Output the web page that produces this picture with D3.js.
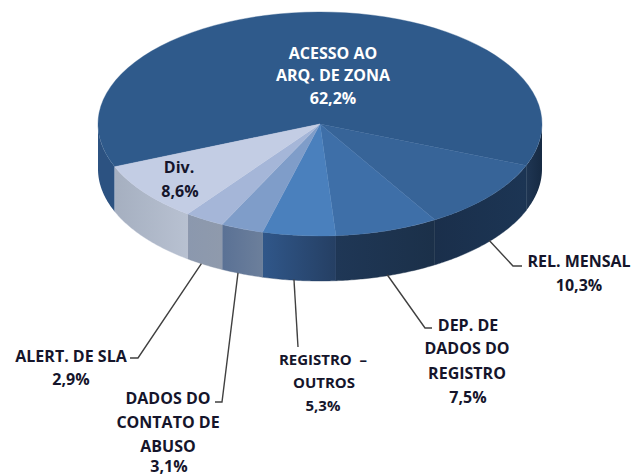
<!DOCTYPE html>
<html>
<head>
<meta charset="utf-8">
<script src="https://cdn.jsdelivr.net/npm/d3@7"></script>
<style>
  html, body { margin: 0; padding: 0; background: #fff; }
  text { font-family: "Open Sans", sans-serif; font-weight: 700; text-anchor: middle; }
</style>
</head>
<body>
<div id="chart"></div>
<script>
// Data, clockwise from the big slice
const categories = ["ACESSO AO ARQ. DE ZONA", "REL. MENSAL", "DEP. DE DADOS DO REGISTRO", "REGISTRO – OUTROS", "DADOS DO CONTATO DE ABUSO", "ALERT. DE SLA", "Div."];
const shares = [62.2, 10.3, 7.5, 5.3, 3.1, 2.9, 8.6];
const shareLabels = ["62,2%", "10,3%", "7,5%", "5,3%", "3,1%", "2,9%", "8,6%"];

// Colours per slice
const topColors = ["#2f5a8b", "#376498", "#3e6fa8", "#4a80bd", "#7f9dc9", "#a5b6d8", "#c3cde4"];
const wallColors = [["#1f3653", "#162a43"], ["#1a2f4b", "#1c3554"], ["#1f3756", "#1b3049"], ["#30578a", "#253f63"], ["#5a7195", "#6c7f9b"], ["#8b98ae", "#8f9aac"], ["#a5afc0", "#b8c1d1"]];

// Label placement: text lines, leader path
const labelLayout = [
  {lines: [["ACESSO AO", 333, 53], ["ARQ. DE ZONA", 333, 75], [shareLabels[0], 333, 98]], fill: "#fff"},
  {lines: [["REL. MENSAL", 579, 261], [shareLabels[1], 579, 285]], leader: [[513, 266], [522, 266]]},
  {lines: [["DEP. DE", 468, 325], ["DADOS DO", 467, 348], ["REGISTRO", 467, 373], [shareLabels[2], 468, 397]], leader: [[425, 328], [432, 328]]},
  {lines: [["REGISTRO \u00a0–", 323, 360, 15], ["OUTROS", 324, 383, 15], [shareLabels[3], 323, 406, 15]], leader: [[298, 347]], nudge: -5},
  {lines: [["DADOS DO", 168, 398], ["CONTATO DE", 168, 422], ["ABUSO", 168, 446], [shareLabels[4], 169, 466]], leader: [[222, 402], [215, 402]], nudge: -4},
  {lines: [["ALERT. DE SLA", 71, 356], [shareLabels[5], 71, 379]], leader: [[138, 358], [130, 358]], nudge: -3},
  {lines: [["Div.", 179, 167], [shareLabels[6], 180, 191]]}
];

const width = 633, height = 476;
const cx = 320, cy = 124, rx = 222, ry = 112, depth = 45;
const textColor = "#15152b";

const svg = d3.select("#chart").append("svg").attr("width", width).attr("height", height);
const defs = svg.append("defs");

const startAngle = 247.6 * Math.PI / 180;
const pie = d3.pie().sort(null).startAngle(startAngle).endAngle(startAngle + 2 * Math.PI);
const arcs = pie(shares);

const arc = d3.arc().innerRadius(0).outerRadius(rx);
const rim = a => [cx + rx * Math.sin(a), cy - ry * Math.cos(a)];

// wall between two angles, only the part facing the viewer
function wallPath(a0, a1) {
  const steps = d3.range(a0, a1, 0.01).concat([a1]);
  const front = steps.map(rim);
  const back = steps.map(rim).reverse().map(p => [p[0], p[1] + depth]);
  return d3.line()(front.concat(back)) + "Z";
}

const walls = svg.append("g");
const right = Math.PI / 2, left = 3 * Math.PI / 2, turn = 2 * Math.PI;

arcs.forEach((d, i) => {
  const grad = defs.append("linearGradient").attr("id", "wall" + i);
  grad.append("stop").attr("offset", 0).attr("stop-color", wallColors[i][0]);
  grad.append("stop").attr("offset", 1).attr("stop-color", wallColors[i][1]);
  if (i === 0) {
    // big slice wraps round the back: two visible wall pieces
    walls.append("path").attr("d", wallPath(d.startAngle, left)).attr("fill", "#2c5281");
    walls.append("path").attr("d", wallPath(right, d.endAngle - turn)).attr("fill", "url(#wall0)");
  } else {
    walls.append("path").attr("d", wallPath(d.startAngle, d.endAngle))
      .attr("fill", "url(#wall" + i + ")")
      .attr("stroke", wallColors[i][1])
      .attr("stroke-width", 0.4);
  }
});

// top faces
const topFace = svg.append("g")
  .attr("transform", "translate(" + cx + "," + cy + ") scale(1," + (ry / rx) + ")");
topFace.selectAll("path")
  .data(arcs).enter()
  .append("path")
  .attr("d", arc)
  .attr("fill", (d, i) => topColors[i])
  .attr("stroke", (d, i) => topColors[i])
  .attr("stroke-width", 0.5);

// leader lines start on the bottom edge of the wall at the middle of the slice
const leader = d3.line();
labelLayout.forEach((l, i) => {
  if (!l.leader) return;
  const mid = (arcs[i].startAngle + arcs[i].endAngle) / 2;
  const p = rim(mid);
  const start = [p[0] + (l.nudge || 0), p[1] + depth - 1];
  svg.append("path")
    .attr("d", leader([start].concat(l.leader)))
    .attr("fill", "none")
    .attr("stroke", "#404040")
    .attr("stroke-width", 1.4);
});

// labels
labelLayout.forEach(l => {
  l.lines.forEach(t => {
    svg.append("text")
      .attr("x", t[1])
      .attr("y", t[2])
      .attr("dy", "0.36em")
      .attr("font-size", t[3] || 16)
      .attr("fill", l.fill || textColor)
      .text(t[0]);
  });
});
</script>
</body>
</html>
